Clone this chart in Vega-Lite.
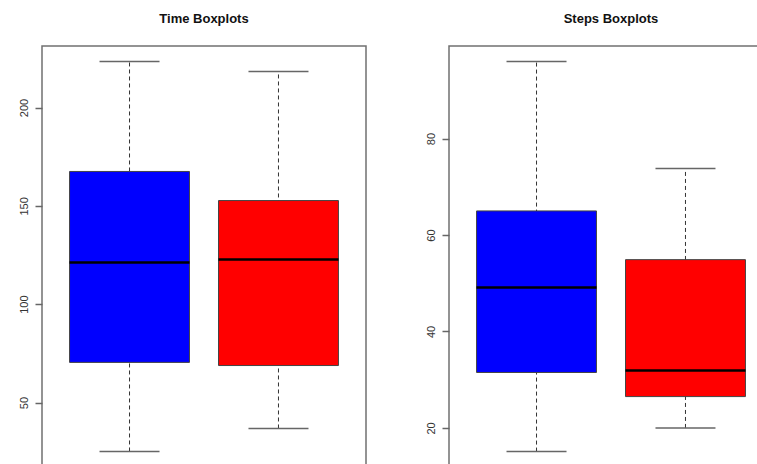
{
  "$schema": "https://vega.github.io/schema/vega-lite/v6.json",
  "background": "white",
  "padding": {"left": 17, "top": 12, "right": 0, "bottom": 0},
  "config": {
    "font": "Liberation Sans",
    "view": {"stroke": "#707070", "strokeWidth": 1.5},
    "title": {"fontSize": 13, "fontWeight": "bold", "color": "#111", "anchor": "middle", "offset": 20, "font": "Liberation Sans"},
    "axisY": {"labelAngle": -90, "labelAlign": "center", "labelBaseline": "bottom", "tickSize": 7, "domain": false, "grid": false, "title": null, "labelFontSize": 11, "labelColor": "#333", "tickColor": "#666", "tickWidth": 1.5, "labelPadding": 6, "labelFont": "Liberation Sans"}
  },
  "datasets": {
    "time": [
      {"group": "A", "lower": 25.1, "q1": 70.4, "median": 121.2, "q3": 167.5, "upper": 223.4},
      {"group": "B", "lower": 36.8, "q1": 68.8, "median": 122.7, "q3": 152.7, "upper": 218.3}
    ],
    "steps": [
      {"group": "A", "lower": 15.1, "q1": 31.5, "median": 49.1, "q3": 65, "upper": 96},
      {"group": "B", "lower": 20, "q1": 26.5, "median": 31.9, "q3": 54.9, "upper": 73.8}
    ]
  },
  "spacing": 83,
  "bounds": "flush",
  "hconcat": [
    {
      "width": 324,
      "height": 421,
      "title": "Time Boxplots",
      "data": {"name": "time"},
      "encoding": {
        "x": {"field": "group", "type": "nominal", "sort": ["A", "B"], "scale": {"paddingInner": 0.195, "paddingOuter": 0.185}, "axis": null}
      },
      "layer": [
        {
          "mark": {"type": "rule", "strokeDash": [4, 3], "color": "#333", "strokeWidth": 1},
          "encoding": {
            "y": {"field": "lower", "type": "quantitative", "scale": {"domain": [17.2, 231.3], "nice": false, "zero": false}, "axis": {"values": [50, 100, 150, 200]}},
            "y2": {"field": "upper"}
          }
        },
        {
          "mark": {"type": "tick", "size": 60, "thickness": 1.5, "color": "#666", "opacity": 1},
          "encoding": {"y": {"field": "lower", "type": "quantitative"}}
        },
        {
          "mark": {"type": "tick", "size": 60, "thickness": 1.5, "color": "#666", "opacity": 1},
          "encoding": {"y": {"field": "upper", "type": "quantitative"}}
        },
        {
          "mark": {"type": "bar", "stroke": "#444", "strokeWidth": 1, "opacity": 1},
          "encoding": {
            "y": {"field": "q1", "type": "quantitative"},
            "y2": {"field": "q3"},
            "color": {"field": "group", "type": "nominal", "scale": {"domain": ["A", "B"], "range": ["#0000FF", "#FF0000"]}, "legend": null}
          }
        },
        {
          "mark": {"type": "tick", "size": 120, "thickness": 2.5, "color": "#000", "opacity": 1},
          "encoding": {"y": {"field": "median", "type": "quantitative"}}
        }
      ]
    },
    {
      "width": 324,
      "height": 421,
      "title": "Steps Boxplots",
      "data": {"name": "steps"},
      "encoding": {
        "x": {"field": "group", "type": "nominal", "sort": ["A", "B"], "scale": {"paddingInner": 0.195, "paddingOuter": 0.185}, "axis": null}
      },
      "layer": [
        {
          "mark": {"type": "rule", "strokeDash": [4, 3], "color": "#333", "strokeWidth": 1},
          "encoding": {
            "y": {"field": "lower", "type": "quantitative", "scale": {"domain": [11.9, 99.2], "nice": false, "zero": false}, "axis": {"values": [20, 40, 60, 80]}},
            "y2": {"field": "upper"}
          }
        },
        {
          "mark": {"type": "tick", "size": 60, "thickness": 1.5, "color": "#666", "opacity": 1},
          "encoding": {"y": {"field": "lower", "type": "quantitative"}}
        },
        {
          "mark": {"type": "tick", "size": 60, "thickness": 1.5, "color": "#666", "opacity": 1},
          "encoding": {"y": {"field": "upper", "type": "quantitative"}}
        },
        {
          "mark": {"type": "bar", "stroke": "#444", "strokeWidth": 1, "opacity": 1},
          "encoding": {
            "y": {"field": "q1", "type": "quantitative"},
            "y2": {"field": "q3"},
            "color": {"field": "group", "type": "nominal", "scale": {"domain": ["A", "B"], "range": ["#0000FF", "#FF0000"]}, "legend": null}
          }
        },
        {
          "mark": {"type": "tick", "size": 120, "thickness": 2.5, "color": "#000", "opacity": 1},
          "encoding": {"y": {"field": "median", "type": "quantitative"}}
        }
      ]
    }
  ]
}
